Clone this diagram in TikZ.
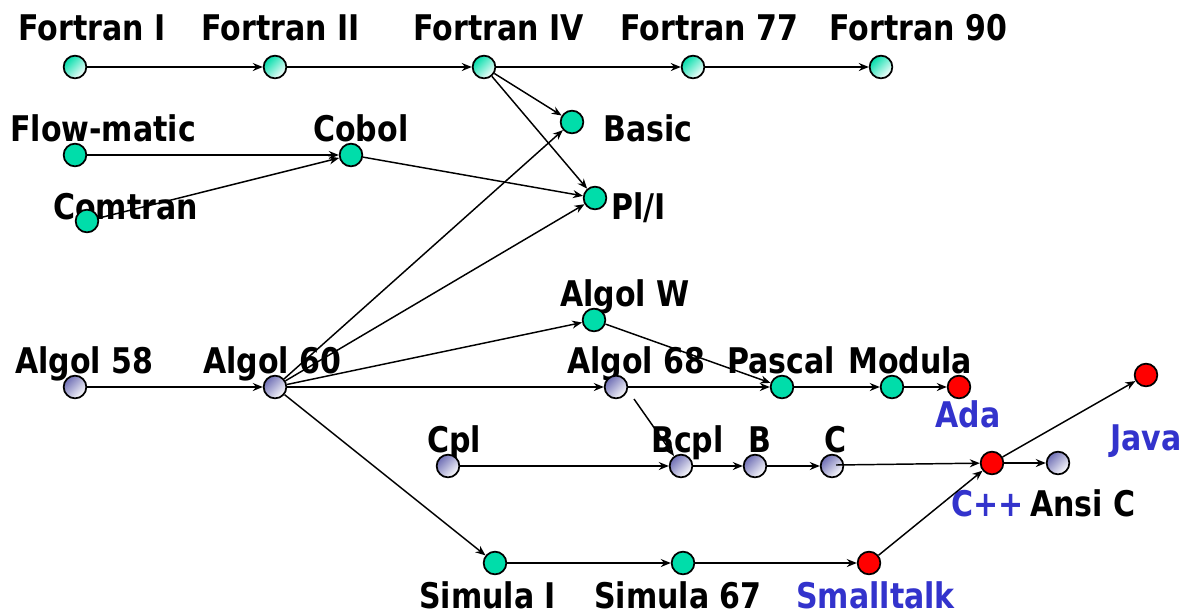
\documentclass[tikz,border=0pt]{standalone}
\usepackage{fontspec}
\setmainfont{DejaVu Sans}[FakeStretch=0.85]
\usetikzlibrary{arrows.meta}
\definecolor{mintc}{RGB}{0,221,170}
\definecolor{lavc}{RGB}{110,110,180}
\definecolor{bluec}{RGB}{51,51,204}
\tikzset{
  lang/.style={circle, draw=black, line width=1.3pt, minimum size=17pt, inner sep=0pt},
  solidmint/.style={lang, fill=mintc},
  solidred/.style={lang, fill=red},
  gradmint/.style={lang, top color=mintc, bottom color=white, shading angle=45},
  gradlav/.style={lang, top color=lavc, bottom color=white, shading angle=45},
  lab/.style={anchor=base west, inner sep=0pt, font=\bfseries\fontsize{26.5}{30}\selectfont},
  bluelab/.style={lab, text=bluec},
  link/.style={-{Stealth[length=7.5pt,width=6pt]}, line width=1.1pt}
}
\begin{document}
\begin{tikzpicture}[x=0.75pt, y=-0.75pt]
\useasboundingbox (0,0) rectangle (1190,615);

% labels
\node[lab] at (18,40) {Fortran I};
\node[lab] at (201,40) {Fortran II};
\node[lab] at (413,40) {Fortran IV};
\node[lab] at (620,40) {Fortran 77};
\node[lab] at (829,40) {Fortran 90};
\node[lab] at (10,141) {Flow-matic};
\node[lab] at (313,141) {Cobol};
\node[lab] at (53,219) {Comtran};
\node[lab] at (603,141) {Basic};
\node[lab] at (611,219) {Pl/I};
\node[lab] at (560,306) {Algol W};
\node[lab] at (15,373) {Algol 58};
\node[lab] at (203,373) {Algol 60};
\node[lab] at (567,373) {Algol 68};
\node[lab] at (727,373) {Pascal};
\node[lab] at (848,373) {Modula};
\node[bluelab] at (935,427) {Ada};
\node[bluelab] at (1110,450) {Java};
\node[lab] at (427,452) {Cpl};
\node[lab] at (651,452) {Bcpl};
\node[lab] at (748,452) {B};
\node[lab] at (824,452) {C};
\node[bluelab] at (951,516) {C++};
\node[lab] at (1030,516) {Ansi C};
\node[lab] at (419,608) {Simula I};
\node[lab] at (594,608) {Simula 67};
\node[bluelab] at (796,608) {Smalltalk};

% languages
\node[gradmint] (f1) at (75,67) {};
\node[gradmint] (f2) at (275,67) {};
\node[gradmint] (f4) at (484,67) {};
\node[gradmint] (f77) at (693,67) {};
\node[gradmint] (f90) at (881,67) {};
\node[solidmint] (flow) at (75,155) {};
\node[solidmint] (cobol) at (351,155) {};
\node[solidmint] (comtran) at (87,221) {};
\node[solidmint] (basic) at (572,122) {};
\node[solidmint] (pl1) at (595,198) {};
\node[solidmint] (algolw) at (594,320) {};
\node[gradlav] (a58) at (75,387) {};
\node[gradlav] (a60) at (275,387) {};
\node[gradlav] (a68) at (616,387) {};
\node[solidmint] (pascal) at (782,387) {};
\node[solidmint] (modula) at (892,387) {};
\node[solidred] (ada) at (959,387) {};
\node[solidred] (java) at (1146,375) {};
\node[gradlav] (cpl) at (448,466) {};
\node[gradlav] (bcpl) at (681,466) {};
\node[gradlav] (b) at (755,466) {};
\node[gradlav] (c) at (832,466) {};
\node[solidred] (cpp) at (992,463) {};
\node[gradlav] (ansic) at (1058,463) {};
\node[solidmint] (sim1) at (495,563) {};
\node[solidmint] (sim67) at (683,563) {};
\node[solidred] (small) at (869,563) {};
\coordinate (a68out) at (634,399);
\coordinate (cout) at (836,465);

% influences
\draw[link] (f1) -- (f2);
\draw[link] (f2) -- (f4);
\draw[link] (f4) -- (f77);
\draw[link] (f77) -- (f90);
\draw[link] (f4) -- (basic);
\draw[link] (f4) -- (pl1);
\draw[link] (flow) -- (cobol);
\draw[link] (comtran) -- (cobol);
\draw[link] (cobol) -- (pl1);
\draw[link] (a58) -- (a60);
\draw[link] (a60) -- (basic);
\draw[link] (a60) -- (pl1);
\draw[link] (a60) -- (algolw);
\draw[link] (a60) -- (a68);
\draw[link] (a60) -- (sim1);
\draw[link] (algolw) -- (pascal);
\draw[link] (a68) -- (pascal);
\draw[link] (pascal) -- (modula);
\draw[link] (modula) -- (ada);
\draw[link] (a68out) -- (bcpl);
\draw[link] (cpl) -- (bcpl);
\draw[link] (bcpl) -- (b);
\draw[link] (b) -- (c);
\draw[link] (cout) -- (cpp);
\draw[link] (cpp) -- (ansic);
\draw[link] (cpp) -- (java);
\draw[link] (sim1) -- (sim67);
\draw[link] (sim67) -- (small);
\draw[link] (small) -- (cpp);
\end{tikzpicture}
\end{document}
